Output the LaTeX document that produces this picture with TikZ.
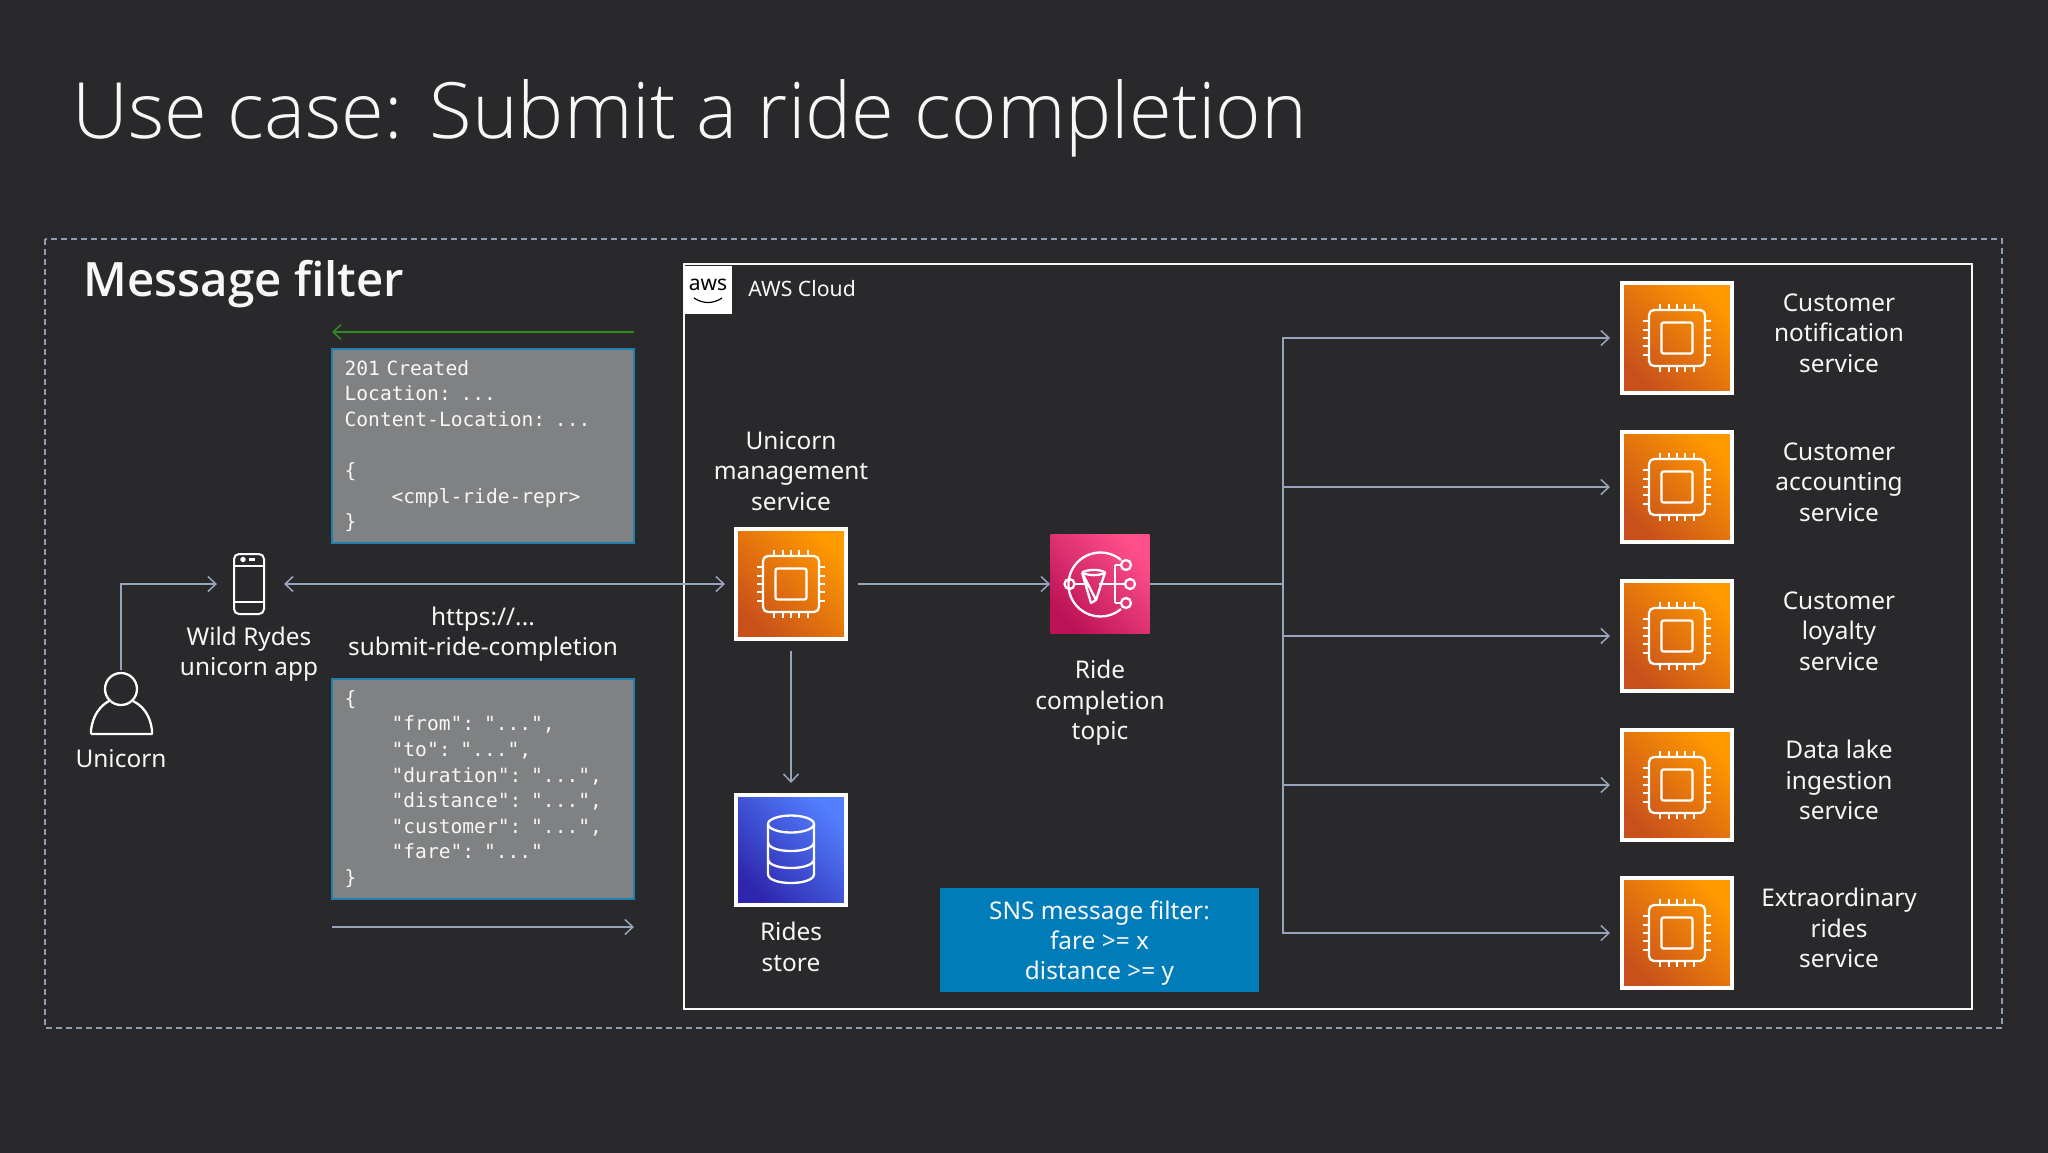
\documentclass[tikz,border=0pt]{standalone}
\usepackage{fontspec}
\setmainfont{Noto Sans}
\setmonofont[WordSpace={1,0,0}]{DejaVu Sans Mono}
\newfontfamily\titlefont{Open Sans Light}
\newfontfamily\headfont{Open Sans Semibold}
\usetikzlibrary{arrows.meta}

\definecolor{bgdark}{HTML}{29292C}
\definecolor{txtwhite}{HTML}{F7F7F7}
\definecolor{flowblue}{HTML}{98A4BC}
\definecolor{dashblue}{HTML}{8E9DB3}
\definecolor{okgreen}{HTML}{2E8B1E}
\definecolor{codegray}{HTML}{808182}
\definecolor{codeedge}{HTML}{1F7FAE}
\definecolor{filterblue}{HTML}{007DB9}
\definecolor{svclight}{HTML}{FF9900}
\definecolor{svcdark}{HTML}{C8511B}
\definecolor{topiclight}{HTML}{FF4F8B}
\definecolor{topicdark}{HTML}{BC1356}
\definecolor{storelight}{HTML}{527FFF}
\definecolor{storedark}{HTML}{2E27AD}

\tikzset{
  lbl/.style={text=txtwhite, font=\fontsize{12.2}{15.2}\selectfont, align=center, inner sep=0pt},
  flow/.style={draw=flowblue, line width=0.75pt, -{Straight Barb[length=4pt,width=7.5pt]}},
  icon/.style={draw=white, line width=1.15pt, line join=round},
  svcbox/.style={draw=white, line width=2pt, minimum size=55pt, inner sep=0pt,
    top color=svclight, bottom color=svcdark, shading angle=-45},
  topicbox/.style={minimum size=49.5pt, inner sep=0pt,
    top color=topiclight, bottom color=topicdark, shading angle=-45},
  storebox/.style={draw=white, line width=2pt, minimum size=55pt, inner sep=0pt,
    top color=storelight, bottom color=storedark, shading angle=-45},
  codebox/.style={draw=codeedge, line width=1pt, fill=codegray, text=txtwhite, minimum width=151pt,
    text width=138.4pt, inner xsep=6.3pt, inner ysep=0pt, align=left,
    font=\ttfamily\fontsize{9.8}{12.8}\selectfont},
  chip/.pic={
    \draw[icon, rounded corners=2.5pt] (-28,-28) rectangle (28,28);
    \draw[icon, rounded corners=1pt] (-15.5,-15.5) rectangle (15.5,15.5);
    \foreach \p in {-16.7,-8.3,0,8.3,16.7} {
      \draw[icon] (\p,-34) -- (\p,-28);
      \draw[icon] (\p,28) -- (\p,34);
      \draw[icon] (-34,\p) -- (-28,\p);
      \draw[icon] (28,\p) -- (34,\p);
    }
  }
}

\begin{document}
\begin{tikzpicture}[x=0.5pt, y=-0.5pt]
  \def\codetab{\hspace*{23.5pt}}
  \useasboundingbox (0,0) rectangle (2048,1152);
  \fill[bgdark] (-4,-4) rectangle (2052,1156);

  % Titles
  \node[anchor=base west, inner sep=0pt, text=txtwhite, font=\titlefont\fontsize{38.85}{44}\selectfont] (title) at (72,138) {Use case: Submit a ride completion};
  \draw[dashblue, line width=0.6pt, dash pattern=on 3pt off 2pt] (45,239) rectangle (2002,1028);
  \node[anchor=base west, inner sep=0pt, text=txtwhite, font=\headfont\fontsize{23.7}{28}\selectfont] (msgfilter) at (83,296) {Message filter};

  % AWS Cloud group
  \draw[txtwhite, line width=1pt] (684,264) rectangle (1972,1009);
  \node[fill=white, minimum size=24pt, inner sep=0pt] (awslogo) at (708,290) {};
  \node[text=black, inner sep=0pt, font=\fontsize{10.5}{11}\selectfont] (awstext) at (708,285) {aws};
  \draw[black, line width=0.6pt] (694,298) .. controls (703,304) and (713,304) .. (722,298);
  \node[lbl, anchor=west, font=\fontsize{10.6}{13}\selectfont] (cloudlbl) at (748,289) {AWS Cloud};

  % Unicorn and app
  \node[minimum width=30.5pt, minimum height=32pt, inner sep=0pt] (user) at (121,702) {};
  \draw[icon] (121,689) circle (16);
  \draw[icon] (91,734) -- (152,734) -- (152,730) .. controls (150,715) and (143,706) .. (133,701);
  \draw[icon] (91,734) -- (91,730) .. controls (93,715) and (100,706) .. (109,701);
  \node[lbl] (userlbl) at (121,759) {Unicorn};
  \node[draw=white, line width=1pt, rounded corners=2.5pt, minimum width=15pt, minimum height=30pt, inner sep=0pt] (phone) at (249,584) {};
  \draw[icon] (233,566) -- (265,566);
  \draw[icon] (233,602) -- (265,602);
  \draw[icon] (243,559.5) circle (1.8);
  \draw[icon] (249,559.5) -- (255,559.5);
  \node[lbl] (phonelbl) at (249,654) {Wild Rydes\\unicorn app};

  % Request and response
  \coordinate (respstart) at (634,332);
  \coordinate (respend) at (332,332);
  \draw[flow, draw=okgreen] (respstart) -- (respend);
  \node[codebox, minimum height=97pt] (respbox) at (483,446) {201 Created\\Location: ...\\Content-Location: ...\\[12.8pt]\{\\\codetab<cmpl-ride-repr>\\\}};
  \node[lbl] (urllbl) at (483,634) {https://...\\submit-ride-completion};
  \node[codebox, minimum height=110pt] (reqbox) at (483,789) {\{\\\codetab"from": "...",\\\codetab"to": "...",\\\codetab"duration": "...",\\\codetab"distance": "...",\\\codetab"customer": "...",\\\codetab"fare": "..."\\\}};
  \coordinate (reqstart) at (332,927);
  \coordinate (reqend) at (634,927);
  \draw[flow] (reqstart) -- (reqend);

  % Management service and store
  \node[svcbox] (mgmt) at (791,584) {};
  \pic at (mgmt) {chip};
  \node[lbl] (mgmtlbl) at (791,471) {Unicorn\\management\\service};
  \node[storebox] (store) at (791,850) {};
  \draw[icon] (791,824) ellipse (23 and 8.5);
  \draw[icon] (768,824) -- (768,874) .. controls (768,886) and (814,886) .. (814,874) -- (814,824);
  \draw[icon] (768,842) .. controls (768,854) and (814,854) .. (814,842);
  \draw[icon] (768,859) .. controls (768,871) and (814,871) .. (814,859);
  \node[lbl] (storelbl) at (791,947) {Rides\\store};

  % Topic
  \node[topicbox] (topic) at (1100,584) {};
  \begin{scope}[shift={(topic)}]
    \draw[icon] (21,-24) arc[start angle=-50, end angle=-310, radius=32];
    \draw[icon] (-30.5,0) circle (5);
    \draw[icon] (-25.5,0) -- (-13,0);
    \draw[icon] (-18,-11.5) -- (-4,16) -- (-9,19) -- (-18,-11.5);
    \draw[icon] (-18,-11.5) .. controls (-12,-15) and (0,-15) .. (5,-11.5) -- (-4,16);
    \draw[icon] (-18,-11.5) .. controls (-12,-8) and (0,-8) .. (5,-11.5);
    \draw[icon] (-1,0) -- (25,0);
    \draw[icon] (15,-19) -- (15,19);
    \draw[icon] (15,-19) -- (21,-19);
    \draw[icon] (15,19) -- (21,19);
    \draw[icon] (26,-19) circle (5);
    \draw[icon] (30,0) circle (5);
    \draw[icon] (26,19) circle (5);
  \end{scope}
  \node[lbl] (topiclbl) at (1100,703) {Ride\\completion\\topic};
  \node[fill=filterblue, minimum width=159.5pt, minimum height=52pt, inner sep=0pt] (filter) at (1099.5,940) {};
  \node[lbl] (filterlbl) at (1099.5,943) {SNS message filter:\\fare >= x\\distance >= y};

  % Subscribers
  \node[svcbox] (svcA) at (1677,338) {};
  \node[svcbox] (svcB) at (1677,487) {};
  \node[svcbox] (svcC) at (1677,636) {};
  \node[svcbox] (svcD) at (1677,785) {};
  \node[svcbox] (svcE) at (1677,933) {};
  \pic at (svcA) {chip};
  \pic at (svcB) {chip};
  \pic at (svcC) {chip};
  \pic at (svcD) {chip};
  \pic at (svcE) {chip};
  \node[lbl] (svcAlbl) at (1839,333) {Customer\\notification\\service};
  \node[lbl] (svcBlbl) at (1839,482) {Customer\\accounting\\service};
  \node[lbl] (svcClbl) at (1839,631) {Customer\\loyalty\\service};
  \node[lbl] (svcDlbl) at (1839,780) {Data lake\\ingestion\\service};
  \node[lbl] (svcElbl) at (1839,928) {Extraordinary\\rides\\service};

  % Connectors
  \draw[flow, shorten >=8pt] (user.north) |- (phone.west);
  \draw[flow, {Straight Barb[length=4pt,width=7.5pt]}-{Straight Barb[length=4pt,width=7.5pt]}, shorten <=9.5pt, shorten >=4.5pt] (phone.east) -- (mgmt.west);
  \draw[flow, shorten <=5pt] (mgmt.east) -- (topic.west);
  \draw[flow, shorten <=5pt, shorten >=5pt] (mgmt.south) -- (store.north);
  \coordinate (trunk) at (1283,584);
  \draw[draw=flowblue, line width=0.75pt] (topic.east) -- (trunk);
  \draw[flow, shorten >=5pt] (trunk) |- (svcA.west);
  \draw[flow, shorten >=5pt] (trunk) |- (svcB.west);
  \draw[flow, shorten >=5pt] (trunk) |- (svcC.west);
  \draw[flow, shorten >=5pt] (trunk) |- (svcD.west);
  \draw[flow, shorten >=5pt] (trunk) |- (svcE.west);
\end{tikzpicture}
\end{document}
